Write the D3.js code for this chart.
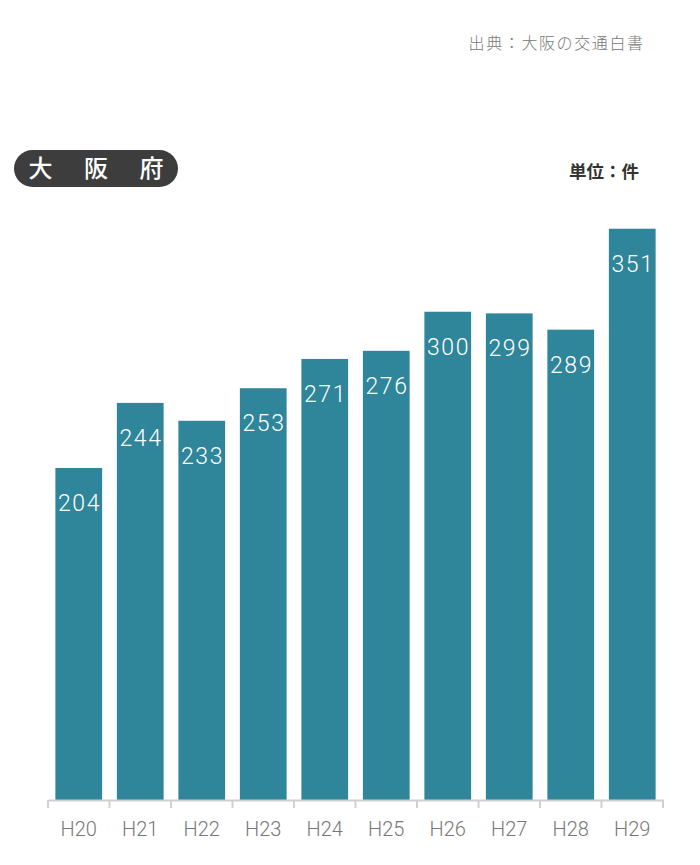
<!DOCTYPE html>
<html><head><meta charset="utf-8">
<script src="https://cdn.jsdelivr.net/npm/d3@7"></script>
<style>body{margin:0;background:#fff}svg{display:block}</style>
</head><body>
<svg id="c" width="700" height="865"></svg>
<script>
const categories = ["H20","H21","H22","H23","H24","H25","H26","H27","H28","H29"];
const values = [204,244,233,253,271,276,300,299,289,351];
const yDomain = [0, 400];
const titleChars = ["大","阪","府"];

const svg = d3.select("#c");
const x = d3.scaleBand().domain(categories).range([48, 663]).paddingInner(0.24).paddingOuter(0.12);
const y = d3.scaleLinear().domain(yDomain).range([800, 149]);
const color = "#2f8599";
const jp = "'Noto Sans CJK JP', 'Noto Sans', sans-serif";

svg.append("text").attr("y", 48.5).attr("text-anchor","start")
  .attr("font-family", jp).attr("font-weight",300).attr("font-size", 16).attr("fill","#777")
  .attr("letter-spacing","1.6px")
  .text("出典：大阪の交通白書")
  .each(function(){ const w=this.getComputedTextLength(); d3.select(this).attr("x", 643 - w + 1.6); });

svg.append("rect").attr("x",14).attr("y",150).attr("width",164).attr("height",37).attr("rx",18.5).attr("fill","#3d3d3d");
const tx = d3.scalePoint().domain(titleChars).range([40.5, 151.5]);
svg.selectAll("text.title").data(titleChars).join("text").attr("class","title")
  .attr("x",d=>tx(d)).attr("y",177).attr("text-anchor","middle")
  .attr("font-family", jp).attr("font-weight",500).attr("font-size",24).attr("fill","#fff")
  .text(d=>d);

svg.append("text").attr("x", 639).attr("y", 178).attr("text-anchor","end")
  .attr("font-family", jp).attr("font-weight",700).attr("font-size",17.5).attr("fill","#333")
  .text("単位：件");

svg.selectAll("rect.bar").data(values).join("rect").attr("class","bar")
  .attr("x",(d,i)=>x(categories[i])).attr("width",x.bandwidth())
  .attr("y",d=>y(d)).attr("height",d=>y(0)-y(d)).attr("fill",color);

svg.selectAll("text.val").data(values).join("text").attr("class","val")
  .attr("x",(d,i)=>x(categories[i])+x.bandwidth()/2+0.75).attr("y",d=>y(d)+43)
  .attr("text-anchor","middle").attr("font-family","Roboto, sans-serif").attr("font-weight",300)
  .attr("font-size",23).attr("letter-spacing","1.5px").attr("fill","#fff")
  .text(d=>d);

const axis = d3.axisBottom(x).tickSize(8).tickSizeOuter(0);
const g = svg.append("g").attr("transform","translate(0,800)").call(axis);
g.select(".domain").attr("stroke","#d0d0d0").attr("stroke-width",2);
g.selectAll(".tick line").remove();
const r = x.range(), n = categories.length;
g.selectAll("line.sep").data(d3.range(n + 1)).join("line").attr("class","sep")
  .attr("x1",i=>r[0] + i*(r[1]-r[0])/n)
  .attr("x2",i=>r[0] + i*(r[1]-r[0])/n)
  .attr("y1",0).attr("y2",8).attr("stroke","#d0d0d0").attr("stroke-width",2);
g.selectAll(".tick text").attr("font-family","Roboto, sans-serif").attr("font-weight",300)
  .attr("font-size",20).attr("fill","#777").attr("dy","1.25em");
</script>
</body></html>
